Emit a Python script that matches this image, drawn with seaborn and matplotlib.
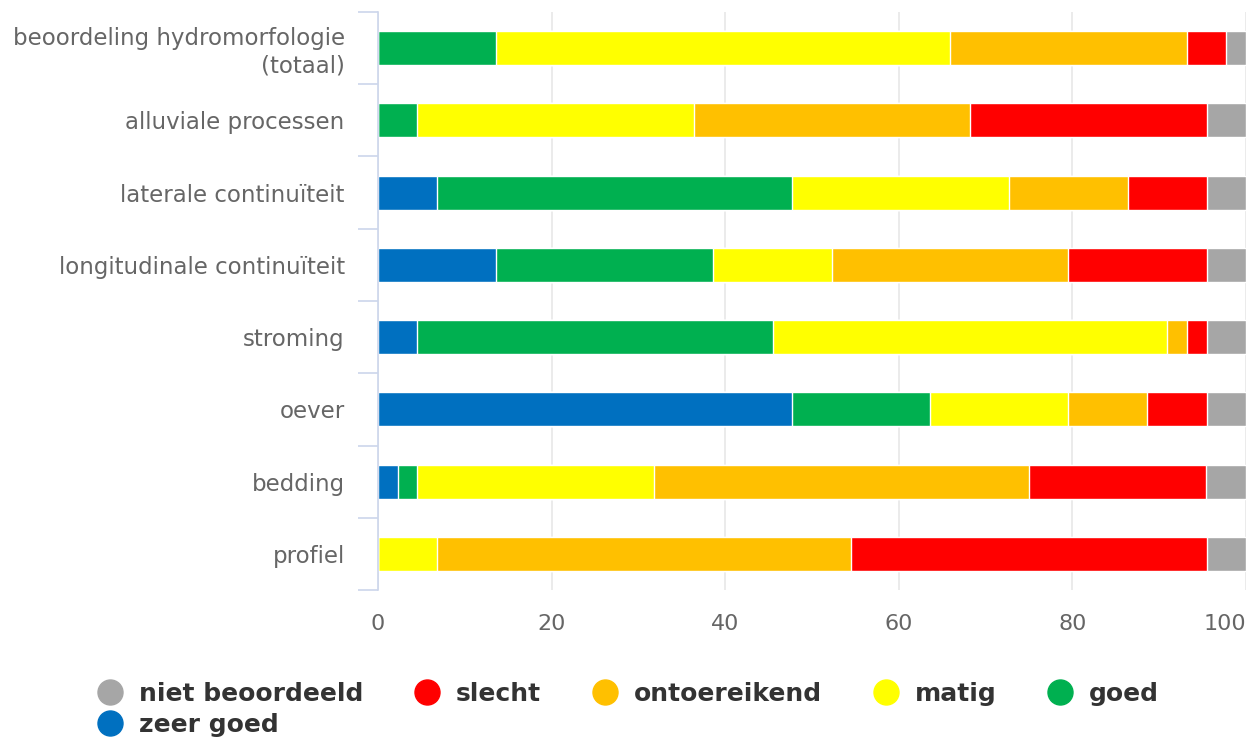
import numpy as np
import pandas as pd
import matplotlib
matplotlib.use('Agg')
import matplotlib.pyplot as plt
from matplotlib.lines import Line2D
import seaborn as sns

categories = ['beoordeling hydromorfologie\n(totaal)', 'alluviale processen',
              'laterale continuïteit', 'longitudinale continuïteit', 'stroming',
              'oever', 'bedding', 'profiel']

# percentages per beoordelingsklasse, in volgorde van de categorieen
zeer_goed = [0, 0, 6.82, 13.64, 4.55, 47.73, 2.27, 0]
goed = [13.64, 4.55, 40.91, 25.0, 40.91, 15.91, 2.27, 0]
matig = [52.27, 31.82, 25.0, 13.64, 45.45, 15.91, 27.27, 6.82]
ontoereikend = [27.27, 31.82, 13.64, 27.27, 2.27, 9.09, 43.18, 47.73]
slecht = [4.55, 27.27, 9.09, 15.91, 2.27, 6.82, 20.45, 40.91]
niet_beoordeeld = [2.27, 4.55, 4.55, 4.55, 4.55, 4.55, 4.55, 4.55]

ratings = ['zeer goed', 'goed', 'matig', 'ontoereikend', 'slecht', 'niet beoordeeld']
colors = {'zeer goed': '#0070C0', 'goed': '#00B050', 'matig': '#FFFF00',
          'ontoereikend': '#FFC000', 'slecht': '#FF0000', 'niet beoordeeld': '#A6A6A6'}

df = pd.DataFrame({'categorie': categories, 'zeer goed': zeer_goed, 'goed': goed,
                   'matig': matig, 'ontoereikend': ontoereikend, 'slecht': slecht,
                   'niet beoordeeld': niet_beoordeeld})
cum = df[ratings].cumsum(axis=1)
cum['categorie'] = df['categorie']

sns.set_style('white')
plt.rcParams['font.family'] = ['DejaVu Sans']

fig = plt.figure(figsize=(12.59, 7.38), dpi=100)
ax = fig.add_axes([378 / 1259, 1 - 590.1 / 738, 868 / 1259, 578.3 / 738])

# stacked bars: draw cumulative totals from the outermost segment inward
for r in ratings[::-1]:
    sns.barplot(data=cum, x=r, y='categorie', order=categories, orient='y',
                color=colors[r], width=0.47, edgecolor='white', linewidth=1,
                saturation=1, ax=ax)

ax.set_xlim(0, 100)
ax.set_ylim(len(categories) - 0.5, -0.5)
ax.set_xticks(np.arange(0, 101, 20))
ax.set_xlabel('')
ax.set_ylabel('')
ax.grid(axis='x', color='#e6e6e6', linewidth=1.1)
ax.set_axisbelow(True)

for s in ['top', 'right', 'bottom']:
    ax.spines[s].set_visible(False)
ax.spines['left'].set_color('#ccd6eb')
ax.spines['left'].set_linewidth(1.2)

ax.set_yticks(np.arange(-0.5, len(categories), 1), minor=True)
ax.tick_params(axis='y', which='minor', length=14.4, width=1.2, color='#ccd6eb', left=True)
ax.tick_params(axis='y', which='major', length=0, pad=24, labelsize=16.5, labelcolor='#666666')
ax.tick_params(axis='x', which='major', length=0, pad=17, labelsize=16, labelcolor='#666666')
# last label is pushed inside the plot area, like the original
ax.get_xticklabels()[-1].set_horizontalalignment('right')

legend_order = ['niet beoordeeld', 'zeer goed', 'slecht', 'ontoereikend', 'matig', 'goed']
handles = [Line2D([], [], linestyle='none', marker='o', markersize=18,
                  markerfacecolor=colors[r], markeredgecolor=colors[r]) for r in legend_order]
leg = fig.legend(handles, legend_order, loc='upper left',
                 bbox_to_anchor=(97.5 / 1259, 1 - 682 / 738), ncol=5, frameon=False,
                 borderpad=0, borderaxespad=0, handlelength=1.0, handletextpad=0.66,
                 columnspacing=2.05, labelspacing=0.27,
                 prop={'size': 18, 'weight': 'bold'})
for t in leg.get_texts():
    t.set_color('#333333')

fig.savefig('out.png', dpi=100)
